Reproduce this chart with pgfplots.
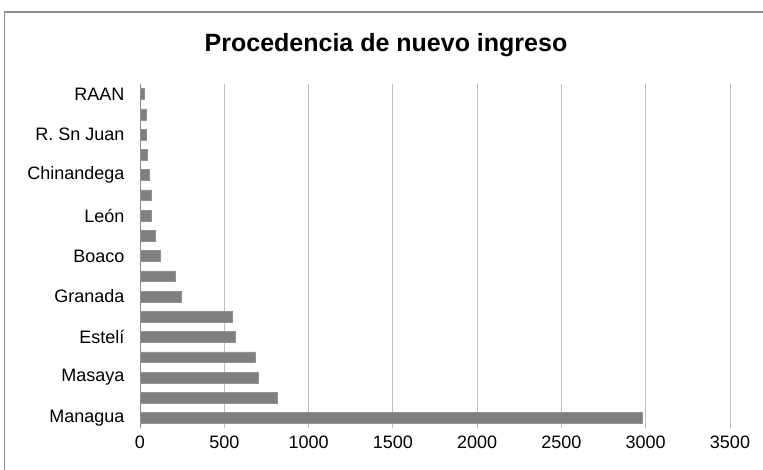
\documentclass[border=0pt]{standalone}
\usepackage{pgfplots}
\pgfplotsset{compat=1.18}
\usepackage{fontspec}
\setmainfont{Liberation Sans}
\definecolor{bargray}{HTML}{7F7F7F}
\definecolor{gridgray}{HTML}{BFBFBF}
\definecolor{framegray}{HTML}{8C8C8C}
\begin{document}
\begin{tikzpicture}[x=1pt,y=1pt]
\useasboundingbox (0,0) rectangle (763,469);
\fill[white] (0,0) rectangle (763,469);
\draw[framegray, line width=1.5pt] (4.5,-10) rectangle (790,457);
\node[font=\bfseries\fontsize{25}{29}\selectfont] at (386,424) {Procedencia de nuevo ingreso};
\begin{axis}[
  at={(140pt,41pt)}, anchor=south west,
  scale only axis, width=590pt, height=344pt,
  xbar, xmin=0, xmax=3500, ymin=-0.5, ymax=16.5,
  bar width=10.8pt,
  xtick={0,500,...,3500},
  ytick={0,2,...,16},
  yticklabels={Managua,Masaya,Estelí,Granada,Boaco,León,Chinandega,R. Sn Juan,RAAN},
  xmajorgrids, ymajorgrids=false,
  grid style={gridgray, line width=1pt},
  axis lines*=left,
  x axis line style={draw=none},
  y axis line style={draw=framegray, line width=1pt, -},
  major tick length=0pt,
  tick label style={font=\fontsize{18}{20}\selectfont, text=black},
  /pgf/number format/assume math mode=true,
  /pgf/number format/set thousands separator={},
  xticklabel style={yshift=-4pt},
  yticklabel style={xshift=-12pt},
  clip=false,
]
\addplot[fill=bargray, draw=bargray!85!white, line width=0.5pt] coordinates {
  (2980,0) (817,1) (702,2) (682,3) (567,4) (550,5) (243,6) (208,7)
  (123,8) (91,9) (69,10) (69,11) (55,12) (44,13) (38,14) (38,15) (24,16)
};
\end{axis}
\end{tikzpicture}
\end{document}
